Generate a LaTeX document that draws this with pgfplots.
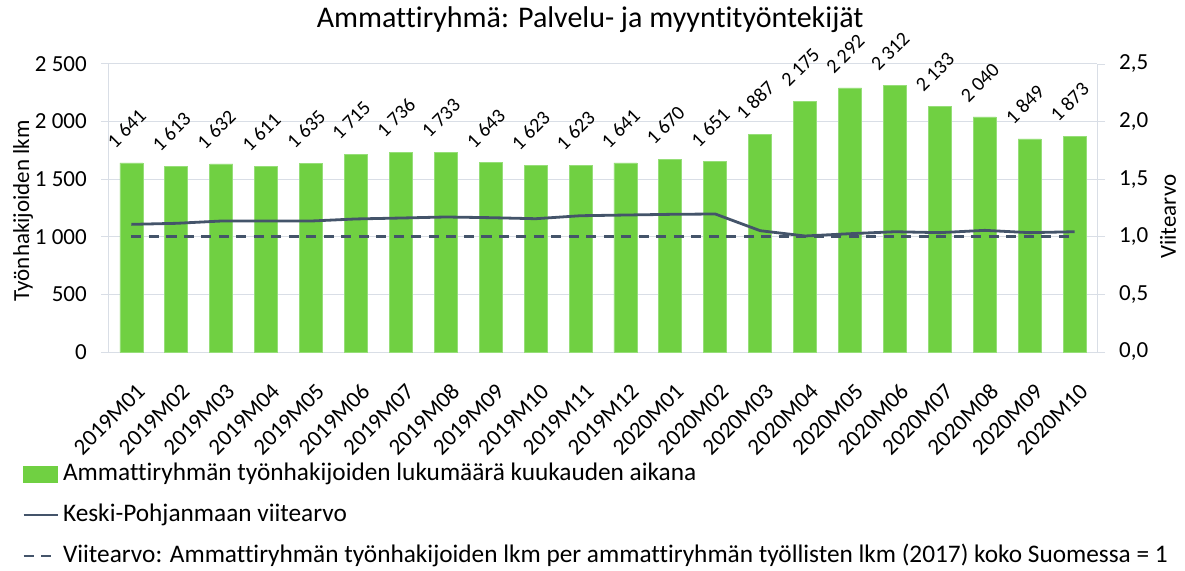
\documentclass[border=0pt]{standalone}
\usepackage{pgfplots}
\pgfplotsset{compat=1.18}
\usepackage{fontspec}
\setmainfont{Carlito}[Ligatures={NoCommon}]
\definecolor{barg}{RGB}{112,208,66}
\definecolor{bare}{RGB}{150,222,120}
\definecolor{linec}{RGB}{68,84,106}
\definecolor{gridc}{RGB}{217,222,230}
\newcommand{\tf}{\fontsize{23}{27}\selectfont}
\newcommand{\df}{\fontsize{20}{24}\selectfont}
\newcommand{\lf}{\fontsize{25.3}{30}\selectfont}
\newcommand{\af}{\fontsize{23}{27}\selectfont}
\pgfplotstableread{
x y
0 1641
1 1613
2 1632
3 1611
4 1635
5 1715
6 1736
7 1733
8 1643
9 1623
10 1623
11 1641
12 1670
13 1651
14 1887
15 2175
16 2292
17 2312
18 2133
19 2040
20 1849
21 1873
}\bars
\pgfplotstableread{
x v r
0 1.108 1
1 1.117 1
2 1.137 1
3 1.137 1
4 1.137 1
5 1.155 1
6 1.163 1
7 1.172 1
8 1.166 1
9 1.157 1
10 1.183 1
11 1.189 1
12 1.195 1
13 1.198 1
14 1.053 1
15 1.007 1
16 1.027 1
17 1.044 1
18 1.036 1
19 1.056 1
20 1.036 1
21 1.044 1
}\lines
\begin{document}
\begin{tikzpicture}[x=1pt,y=1pt]
\useasboundingbox (-109,-218) rectangle (1076,352);
\pgfplotsset{
  common/.style={
    at={(0,0)}, anchor=south west,
    scale only axis, width=988pt, height=288pt,
    xmin=-0.5, xmax=21.5, clip=false,
    /pgf/number format/assume math mode=true,
    tick label style={font=\tf},
    tick align=outside, major tick length=8pt,
    axis line style={gridc, line width=1pt, -},
    tick style={gridc, line width=1pt},
  }
}
\begin{axis}[common,
  ymin=0, ymax=2500, ytick={0,500,...,2500},
  axis x line*=bottom, axis y line*=left,
  xtick={0,...,21},
  xticklabels={2019M01,2019M02,2019M03,2019M04,2019M05,2019M06,2019M07,2019M08,2019M09,2019M10,2019M11,2019M12,2020M01,2020M02,2020M03,2020M04,2020M05,2020M06,2020M07,2020M08,2020M09,2020M10},
  xtick style={draw=none},
  xticklabel style={inner sep=0pt, xshift=4pt, yshift=-22pt, rotate=45, anchor=north east},
  yticklabel style={inner sep=0pt, xshift=-14pt},
  /pgf/number format/1000 sep={\ },
  ymajorgrids, grid style={gridc, line width=1pt},
  every axis y label/.style={at={(axis description cs:0,0.49)}, xshift=-86pt, rotate=90, anchor=center, font=\af},
  ylabel={Työnhakijoiden lkm},
  title={Ammattiryhmä: Palvelu- ja myyntityöntekijät},
  title style={at={(axis description cs:0.487,1.132)}, anchor=center, font=\fontsize{30}{34}\selectfont},
  ybar, bar width=23pt,
  nodes near coords,
  nodes near coords style={font=\df, /pgf/number format/1000 sep={\ }, inner sep=0pt, xshift=-16pt, yshift=13pt, rotate=45, anchor=south west},
]
\addplot[fill=barg, draw=bare, line width=0.8pt] table[x=x,y=y]{\bars};
\end{axis}
\begin{axis}[common,
  ymin=0, ymax=2.5, ytick={0,0.5,...,2.5},
  axis y line*=right, axis x line=none,
  yticklabel style={inner sep=0pt, xshift=14pt, /pgf/number format/.cd, fixed, fixed zerofill, precision=1, use comma},
  every axis y label/.style={at={(axis description cs:1,0.47)}, xshift=71pt, rotate=90, anchor=center, font=\af},
  ylabel={Viitearvo},
  legend style={draw=none, fill=none, at={(axis description cs:-0.088,-0.385)}, anchor=north west,
    font=\lf, row sep=19pt, column sep=4pt, inner sep=0pt,
    nodes={inner sep=0pt, text height=17pt, text depth=5pt}},
  legend cell align=left,
]
\addlegendimage{legend image code/.code={\fill[barg] (0pt,-8pt) rectangle (34pt,8pt);}}
\addlegendentry{Ammattiryhmän työnhakijoiden lukumäärä kuukauden aikana}
\addplot[linec, line width=2.8pt, legend image code/.code={\draw[linec, line width=2.8pt] (0pt,0pt) -- (34pt,0pt);}] table[x=x,y=v]{\lines};
\addlegendentry{Keski-Pohjanmaan viitearvo}
\addplot[linec, line width=2.8pt, dash pattern=on 10pt off 7.5pt, legend image code/.code={\draw[linec, line width=2.8pt, dash pattern=on 10pt off 7.5pt] (0pt,0pt) -- (34pt,0pt);}] table[x=x,y=r]{\lines};
\addlegendentry{Viitearvo: Ammattiryhmän työnhakijoiden lkm per ammattiryhmän työllisten lkm (2017) koko Suomessa = 1}
\end{axis}
\end{tikzpicture}
\end{document}
